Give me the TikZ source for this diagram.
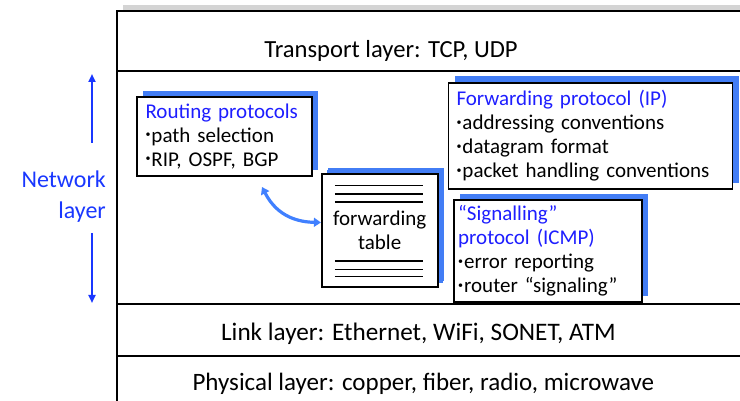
\documentclass[tikz,border=0pt]{standalone}
\usepackage{fontspec}
\setmainfont{Carlito}
\usetikzlibrary{arrows.meta,shadows,calc}
\definecolor{shblue}{RGB}{66,125,245}
\definecolor{ttlblue}{RGB}{30,30,255}
\definecolor{netblue}{RGB}{25,55,255}
\definecolor{arrblue}{RGB}{64,128,255}
\definecolor{barGray}{RGB}{212,212,212}
\newcommand{\bul}{\raisebox{4.5pt}{\fontsize{10}{10}\selectfont •}\hspace{1pt}}
\tikzset{
  frame/.style={line width=2pt, black},
  layertext/.style={anchor=base, inner sep=0pt},
  pbox/.style={draw=black, line width=1.6pt, fill=white, align=left,
    font=\fontsize{21}{24}\selectfont,
    drop shadow={shadow xshift=6pt, shadow yshift=6pt, fill=shblue, opacity=1}},
  ttl/.style={text=ttlblue},
  tabline/.style={line width=1.4pt, black},
  netarrow/.style={line width=2pt, netblue, -{Triangle[width=7pt,length=8pt]}},
  curvearrow/.style={line width=3.2pt, arrblue, {Triangle[width=9pt,length=7pt]}-{Triangle[width=9pt,length=7pt]}}
}
\begin{document}
\begin{tikzpicture}[x=1pt, y=-1pt]
\useasboundingbox (0,0) rectangle (740,401);
% gray bar and frame
\fill[barGray] (123,5) rectangle (740,10);
\draw[frame] (117,402) -- (117,11) -- (741,11);
\draw[frame] (117,71) -- (741,71);
\draw[frame] (117,304) -- (741,304);
\draw[frame] (117,356) -- (741,356);
% layer texts
\node[layertext, font=\fontsize{24.6}{28}\selectfont] (transport) at (391,58) {Transport layer: TCP, UDP};
\node[layertext, font=\fontsize{25.2}{28}\selectfont] (link) at (418.4,340) {Link layer: Ethernet, WiFi, SONET, ATM};
\node[layertext, font=\fontsize{25}{28}\selectfont] (phys) at (423.3,390) {Physical layer: copper, fiber, radio, microwave};
% network layer label
\node[font=\fontsize{24}{31}\selectfont, text=netblue, align=right, anchor=east, inner sep=0pt] (net) at (106,197) {Network\\layer};
\coordinate (upS) at (92,143);
\coordinate (upE) at (92,74);
\coordinate (dnS) at (92,233);
\coordinate (dnE) at (92,303);
\draw[netarrow] (upS) -- (upE);
\draw[netarrow] (dnS) -- (dnE);
% routing protocols
\node[pbox, minimum width=175pt, minimum height=79pt, text width=158pt, inner xsep=8.5pt] (rout) at (224.5,136.5)
  {{\color{ttlblue}Routing protocols}\\\bul path selection\\\bul RIP, OSPF, BGP};
% forwarding protocol
\node[pbox, minimum width=284pt, minimum height=106pt, text width=268pt, inner xsep=8pt,
  drop shadow={shadow xshift=6pt, shadow yshift=7pt, fill=shblue, opacity=1}] (fwd) at (590.5,136)
  {{\color{ttlblue}Forwarding protocol (IP)}\\\bul addressing conventions\\\bul datagram format\\\bul packet handling conventions};
% forwarding table
\node[pbox, align=center, minimum width=116pt, minimum height=113pt, text width=100pt, inner xsep=8pt,
  drop shadow={shadow xshift=5pt, shadow yshift=4pt, fill=shblue, opacity=1}] (ft) at (379.7,230.5)
  {forwarding\\table};
\draw[tabline] ($(ft.north west)+(14,12.5)$) -- ($(ft.north east)+(-16,12.5)$);
\draw[tabline] ($(ft.north west)+(14,20.8)$) -- ($(ft.north east)+(-16,20.8)$);
\draw[tabline] ($(ft.north west)+(14,29)$) -- ($(ft.north east)+(-16,29)$);
\draw[tabline] ($(ft.south west)+(14,-26.7)$) -- ($(ft.south east)+(-16,-26.7)$);
\draw[tabline] ($(ft.south west)+(14,-18.3)$) -- ($(ft.south east)+(-16,-18.3)$);
\draw[tabline] ($(ft.south west)+(14,-11)$) -- ($(ft.south east)+(-16,-11)$);
% signalling protocol
\node[pbox, minimum width=188pt, minimum height=102pt, text width=180pt, inner xsep=3pt] (sig) at (548.2,251)
  {{\color{ttlblue}“Signalling”\\protocol (ICMP)}\\\bul error reporting\\\bul router “signaling”};
% curved arrow
\coordinate (rtip) at (262,187);
\draw[curvearrow] (rtip) .. controls (278,218) and (300,222) .. ([yshift=8pt]ft.west);
\end{tikzpicture}
\end{document}
